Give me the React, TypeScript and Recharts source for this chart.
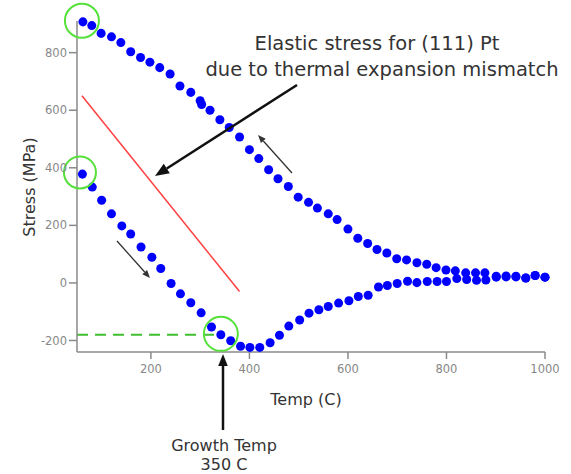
import React from 'react';
import { ScatterChart, Scatter, XAxis, YAxis, ReferenceLine, ReferenceDot } from 'recharts';

// cooling curve (upper)
const coolTemp = [62, 80, 99, 120, 139, 159, 179, 198, 218, 239, 259, 281, 300, 303, 320, 340, 359, 380, 400, 419, 439, 458, 479, 499, 520, 538, 560, 578, 600, 620, 640, 659, 679, 699, 719, 740, 760, 779, 799, 818, 839, 859, 878, 901, 921, 941, 961, 980, 1000];
const coolStress = [907, 894, 867, 855, 835, 803, 783, 767, 748, 726, 684, 662, 633, 620, 600, 567, 540, 507, 463, 432, 393, 362, 335, 298, 280, 260, 240, 220, 187, 155, 137, 116, 104, 84, 80, 70, 65, 53, 45, 42, 35, 35, 35, 23, 24, 23, 17, 26, 20];

// heating curve (lower)
const heatTemp = [61, 81, 100, 120, 141, 159, 180, 202, 220, 241, 260, 281, 302, 323, 342, 362, 382, 401, 421, 442, 461, 480, 502, 521, 541, 560, 581, 602, 621, 641, 662, 680, 700, 721, 740, 761, 781, 800, 821, 841, 861, 880, 901, 921, 941, 961, 980, 1000];
const heatStress = [378, 333, 287, 240, 198, 170, 125, 89, 50, -2, -38, -69, -104, -153, -180, -201, -220, -224, -224, -208, -182, -150, -129, -105, -93, -82, -70, -62, -47, -43, -14, -9, -2, 6, 1, 5, 5, 5, 15, 12, 9, 10, 20, 21, 21, 17, 26, 20];

const xTicks = [200, 400, 600, 800, 1000];
const yTicks = [-200, 0, 200, 400, 600, 800];

const coolData = coolTemp.map((t, i) => ({ x: t, y: coolStress[i] }));
const heatData = heatTemp.map((t, i) => ({ x: t, y: heatStress[i] }));

const font = '"DejaVu Sans", Verdana, sans-serif';
const axisColor = '#8a8a8a';
const green = '#55e03a';

function Arrow({ x1, y1, x2, y2, w, head, color }: any) {
  const ang = Math.atan2(y2 - y1, x2 - x1);
  const hx = x2 - head * Math.cos(ang);
  const hy = y2 - head * Math.sin(ang);
  const px = (head * 0.4) * Math.sin(ang);
  const py = (head * 0.4) * Math.cos(ang);
  return (
    <g>
      <line x1={x1} y1={y1} x2={hx} y2={hy} stroke={color} strokeWidth={w} />
      <polygon points={`${x2},${y2} ${hx + px},${hy - py} ${hx - px},${hy + py}`} fill={color} />
    </g>
  );
}

export default function App() {
  return (
    <div style={{ position: 'absolute', left: 0, top: 0, width: 571, height: 474, background: '#fff' }}>
      <ScatterChart width={571} height={474} margin={{ top: 21, right: 26, bottom: 92, left: 17 }}>
        <XAxis
          type="number"
          dataKey="x"
          domain={[50, 1000]}
          ticks={xTicks}
          tickSize={7}
          stroke={axisColor}
          strokeWidth={1.5}
          tick={{ fill: '#888', fontSize: 11.5, fontFamily: font, dy: 4 }}
        />
        <YAxis
          type="number"
          dataKey="y"
          domain={[-240, 910]}
          ticks={yTicks}
          tickSize={8}
          stroke={axisColor}
          strokeWidth={1.5}
          tick={{ fill: '#888', fontSize: 11.5, fontFamily: font }}
        />
        <ReferenceLine segment={[{ x: 60, y: 650 }, { x: 380, y: -30 }]} stroke="#ff4040" strokeWidth={1.5} ifOverflow="visible" />
        <ReferenceLine segment={[{ x: 50, y: -180 }, { x: 340, y: -180 }]} stroke="#3fbf2f" strokeWidth={2} strokeDasharray="11 7" ifOverflow="visible" />
        <Scatter data={coolData} fill="#0000ff" isAnimationActive={false} />
        <Scatter data={heatData} fill="#0000ff" isAnimationActive={false} />
        <ReferenceDot x={60} y={911} r={17} fill="none" stroke={green} strokeWidth={2} ifOverflow="visible" />
        <ReferenceDot x={56} y={384} r={16} fill="none" stroke={green} strokeWidth={2} ifOverflow="visible" />
        <ReferenceDot x={342} y={-177} r={17} fill="none" stroke={green} strokeWidth={2} ifOverflow="visible" />
      </ScatterChart>
      <svg width={571} height={474} style={{ position: 'absolute', left: 0, top: 0, pointerEvents: 'none' }}>
        <Arrow x1={297} y1={85} x2={155} y2={176} w={2.5} head={14} color="#111" />
        <Arrow x1={292} y1={173} x2={258} y2={135} w={1.3} head={8} color="#333" />
        <Arrow x1={117} y1={241} x2={150} y2={278} w={1.3} head={8} color="#333" />
        <Arrow x1={223} y1={430} x2={223} y2={354} w={2.5} head={12} color="#111" />
        <text x={377} y={50} textAnchor="middle" fontSize={19.5} fontFamily={font} fill="#333">Elastic stress for (111) Pt</text>
        <text x={382} y={76} textAnchor="middle" fontSize={19.5} fontFamily={font} fill="#333">due to thermal expansion mismatch</text>
        <text x={306} y={405} textAnchor="middle" fontSize={16} fontFamily={font} fill="#333">Temp (C)</text>
        <text transform="translate(35,187) rotate(-90)" textAnchor="middle" fontSize={16} fontFamily={font} fill="#333">Stress (MPa)</text>
        <text x={224} y={451} textAnchor="middle" fontSize={16} fontFamily={font} fill="#333">Growth Temp</text>
        <text x={224} y={470} textAnchor="middle" fontSize={16} fontFamily={font} fill="#333">350 C</text>
      </svg>
    </div>
  );
}
